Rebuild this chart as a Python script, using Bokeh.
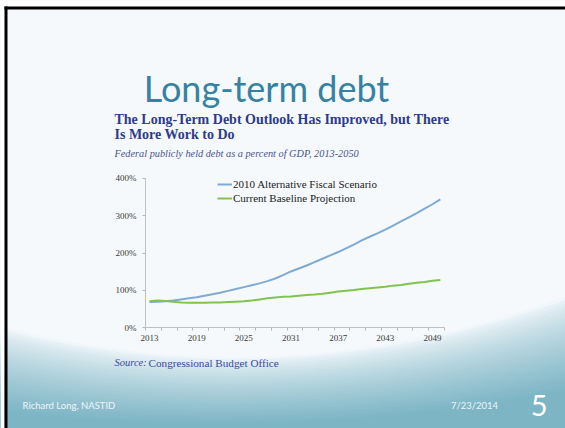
import numpy as np
from bokeh.plotting import figure
from bokeh.models import (Range1d, LinearAxis, FixedTicker, Legend, LegendItem,
                          ColumnDataSource)
from bokeh.core.properties import value
from bokeh.embed import file_html
from bokeh.resources import INLINE

# ---------------- data ----------------
years = list(range(2013, 2051))
alt_fiscal = [69, 70, 71, 73, 76, 79, 82, 86, 90, 94,
              99, 104, 109, 114, 119, 125, 132, 141, 151, 159,
              167, 176, 185, 194, 203, 213, 223, 234, 244, 253,
              263, 274, 285, 296, 307, 319, 331, 344]
baseline = [71, 73, 72, 70, 68, 67, 67, 67, 68, 68,
            69, 70, 71, 73, 76, 79, 81, 83, 84, 86,
            88, 89, 91, 94, 97, 99, 101, 104, 106, 108,
            110, 113, 115, 118, 121, 123, 126, 128]
series_names = ["2010 Alternative Fiscal Scenario", "Current Baseline Projection"]
x_label_years = [2013, 2019, 2025, 2031, 2037, 2043, 2049]
y_ticks = [0, 100, 200, 300, 400]
y_tick_labels = ["0%", "100%", "200%", "300%", "400%"]

W, H = 565, 428
BG = "#f5f9fb"

p = figure(width=W, height=H, output_backend="svg", toolbar_location=None,
           x_axis_location=None, y_axis_location=None, min_border=0, title=None,
           x_range=Range1d(1994.043, 2065.926), y_range=Range1d(-269.7, 876.8))
p.outline_line_color = None
p.background_fill_color = BG
p.border_fill_color = BG
p.grid.visible = False
p.extra_x_ranges = {"px": Range1d(0, W)}
p.extra_y_ranges = {"px": Range1d(H, 0)}

# ---------------- slide decoration (bottom wave) ----------------
def lerp(a, b, t):
    return a + (b - a) * t

def hex2rgb(h):
    h = h.lstrip("#")
    return tuple(int(h[i:i + 2], 16) for i in (0, 2, 4))

c0, c1 = hex2rgb("#f0f6f9"), hex2rgb("#7db5c5")
xs = np.linspace(0, W, 80)
nb = 28
for i in range(nb):
    t = i / (nb - 1)
    L = lerp(326, 410, t)
    M = lerp(356, 422, t)
    R = lerp(296, 390, t)
    A = np.array([[0, 0, 1], [258 ** 2, 258, 1], [W ** 2, W, 1]], dtype=float)
    a, b, c = np.linalg.solve(A, np.array([L, M, R], dtype=float))
    top = a * xs ** 2 + b * xs + c
    col = "#%02x%02x%02x" % tuple(int(round(lerp(c0[k], c1[k], t ** 0.75))) for k in range(3))
    px = list(xs) + [W, 0]
    py = list(top) + [H, H]
    p.patch(px, py, fill_color=col, line_color=None,
            x_range_name="px", y_range_name="px")

# page edge: white strip + black slide frame at top and left
p.quad(left=[0, 0], right=[W, 4], top=[0, 0], bottom=[6, H], fill_color="white",
       line_color=None, x_range_name="px", y_range_name="px")
p.quad(left=[4, 4], right=[W, 7], top=[6, 6], bottom=[9, H], fill_color="black",
       line_color=None, x_range_name="px", y_range_name="px")

# ---------------- data lines ----------------
src = ColumnDataSource(dict(year=years, alt=alt_fiscal, base=baseline))
r1 = p.line("year", "alt", source=src, line_color="#7eaad3", line_width=2)
r2 = p.line("year", "base", source=src, line_color="#80c34f", line_width=2)

# ---------------- axes ----------------
xaxis = LinearAxis(fixed_location=0, bounds=(2012.5, 2050.5),
                   ticker=FixedTicker(ticks=x_label_years,
                                      minor_ticks=[2012.5 + 2 * i for i in range(20)]))
xaxis.major_tick_line_color = None
xaxis.major_tick_out = 0
xaxis.major_tick_in = 0
xaxis.minor_tick_line_color = "#b5b5b5"
xaxis.minor_tick_in = 0
xaxis.minor_tick_out = 3
xaxis.axis_line_color = "#c0c0c0"
xaxis.major_label_overrides = {yr: str(yr) for yr in x_label_years}
xaxis.major_label_text_font = "Liberation Serif"
xaxis.major_label_text_font_size = "9px"
xaxis.major_label_text_color = "#3a3a3a"
xaxis.major_label_standoff = 4
p.add_layout(xaxis, "below")

yaxis = LinearAxis(fixed_location=2012.5, bounds=(0, 400),
                   ticker=FixedTicker(ticks=y_ticks))
yaxis.major_label_overrides = {v: s for v, s in zip(y_ticks, y_tick_labels)}
yaxis.major_tick_in = 0
yaxis.major_tick_out = 3
yaxis.major_tick_line_color = "#b5b5b5"
yaxis.minor_tick_line_color = None
yaxis.axis_line_color = "#c0c0c0"
yaxis.major_label_text_font = "Liberation Serif"
yaxis.major_label_text_font_size = "9px"
yaxis.major_label_text_color = "#3a3a3a"
yaxis.major_label_standoff = 6
p.add_layout(yaxis, "left")

# ---------------- legend ----------------
legend = Legend(items=[LegendItem(label=series_names[0], renderers=[r1]),
                       LegendItem(label=series_names[1], renderers=[r2])],
                location=(217, 222.7))
legend.background_fill_alpha = 0
legend.border_line_color = None
legend.padding = 0
legend.margin = 0
legend.spacing = 0
legend.glyph_width = 15
legend.glyph_height = 14
legend.label_height = 14
legend.label_standoff = 1
legend.label_text_font = "Liberation Serif"
legend.label_text_font_size = "11px"
legend.label_text_color = "#222222"
p.add_layout(legend, "center")

# ---------------- texts ----------------
def txt(x, y, s, font, size, color, style="normal", align="left", baseline="middle"):
    p.text(x=[x], y=[y], text=[s], x_range_name="px", y_range_name="px",
           text_font=value(font), text_font_size=size, text_color=color,
           text_font_style=style, text_align=align, text_baseline=baseline)

txt(266, 87, "Long-term debt", "Lato", "36px", "#3582a3", align="center",
    baseline="alphabetic")
txt(114, 119, "The Long-Term Debt Outlook Has Improved, but There",
    "Liberation Serif", "14px", "#2e3b8c", style="bold")
txt(114, 133.5, "Is More Work to Do", "Liberation Serif", "14px", "#2e3b8c", style="bold")
txt(114, 152.5, "Federal publicly held debt as a percent of GDP, 2013-2050",
    "Liberation Serif", "10.3px", "#4a5590", style="italic")
txt(114, 362, "Source:", "Liberation Serif", "10.5px", "#3a4a9a", style="italic")
txt(148, 362, "Congressional Budget Office", "Liberation Serif", "11.2px", "#3a4a9a")

txt(22, 405, "Richard Long, NASTID", "Lato", "9.5px", "#eef6f8")
txt(474, 405, "7/23/2014", "Lato", "9.5px", "#eef6f8", align="center")
txt(538.7, 404.5, "5", "Lato", "29px", "#ffffff", align="center")

open("out.html", "w").write(file_html(p, INLINE))
